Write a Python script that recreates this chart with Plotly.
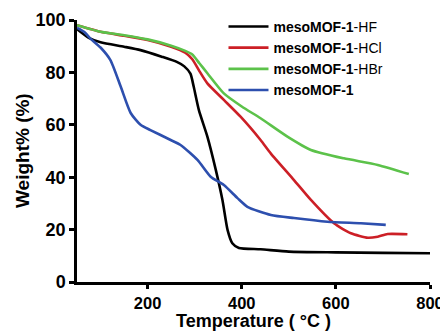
import plotly.graph_objects as go

# Temperature (°C) and weight (%)
t_hf = [50, 75, 100, 150, 185, 230, 262, 278, 291, 298, 309, 327, 345, 359, 370, 380, 394, 440, 500, 600, 700, 800]
w_hf = [96.5, 93.2, 91.5, 89.8, 88.5, 86.0, 84.0, 82.3, 79.5, 74.5, 65.6, 55.5, 42.7, 31.3, 19.8, 14.8, 13.0, 12.5, 11.6, 11.3, 11.1, 11.0]

t_hcl = [50, 100, 150, 200, 250, 280, 295, 310, 327, 362, 398, 440, 462, 511, 547, 596, 632, 668, 689, 710, 752]
w_hcl = [98, 95.5, 94.0, 92.4, 89.8, 87.5, 85.0, 80.5, 75.8, 69.5, 63.0, 54.2, 49.0, 38.9, 31.3, 22.4, 18.6, 16.9, 17.3, 18.3, 18.2]

t_hbr = [50, 100, 150, 200, 250, 280, 295, 310, 327, 362, 400, 440, 497, 547, 617, 689, 755]
w_hbr = [98, 95.5, 94.2, 92.6, 90.2, 88.2, 86.8, 83.5, 79.7, 72.0, 67.0, 62.5, 55.5, 50.4, 47.2, 44.7, 41.2]

t_mof = [50, 65, 78, 100, 121, 143, 164, 185, 206, 249, 270, 306, 334, 362, 391, 412, 462, 511, 582, 653, 706]
w_mof = [97, 95.5, 93, 89.5, 84.7, 74.5, 64.5, 60.0, 58.0, 54.2, 52.3, 46.6, 40.2, 37.0, 32.0, 28.7, 25.6, 24.4, 23.0, 22.4, 21.8]

series = [
    ("<b>mesoMOF-1</b>-HF", t_hf, w_hf, "#000000"),
    ("<b>mesoMOF-1</b>-HCl", t_hcl, w_hcl, "#cc1f26"),
    ("<b>mesoMOF-1</b>-HBr", t_hbr, w_hbr, "#5cc24a"),
    ("<b>mesoMOF-1</b>", t_mof, w_mof, "#2d4fae"),
]

x_ticks = [200, 400, 600, 800]
y_ticks = [0, 20, 40, 60, 80, 100]

FONT = "Liberation Sans, Arial, sans-serif"

fig = go.Figure()
for name, t, w, c in series:
    fig.add_trace(go.Scatter(x=t, y=w, mode="lines", name=name,
                             line=dict(color=c, width=2.6, shape="spline", smoothing=0.6)))

# the page adds an 8px body margin, so the figure is 8px smaller and offsets reduced
fig.update_layout(
    width=440, height=325,
    margin=dict(l=69, r=18, t=12, b=51, autoexpand=False),
    paper_bgcolor="white", plot_bgcolor="white",
    font=dict(family=FONT, color="black"),
    showlegend=True,
    legend=dict(x=0.415, y=1.035, xanchor="left", yanchor="top",
                bgcolor="rgba(0,0,0,0)", font=dict(size=14, family=FONT, color="black"),
                itemwidth=40, tracegroupgap=0),
    annotations=[
        dict(text="<b>Weight% (%)</b>", textangle=-90, xref="paper", yref="paper",
             x=0, y=0.5, xanchor="center", yanchor="middle", xshift=-55,
             showarrow=False, font=dict(size=19, family=FONT, color="black")),
        dict(text="<b>Temperature ( °C )</b>", xref="paper", yref="paper",
             x=0.5, y=0, xanchor="center", yanchor="top", yshift=-27,
             showarrow=False, font=dict(size=18, family=FONT, color="black")),
    ],
)
fig.update_xaxes(
    range=[50, 800], tickvals=x_ticks, ticktext=[f"<b>{v}</b>" for v in x_ticks],
    showline=True, linecolor="black", linewidth=2.5, ticks="outside", ticklen=4,
    tickwidth=2.5, tickcolor="black", showgrid=False, zeroline=False,
    tickfont=dict(size=16.5, family=FONT), automargin=False,
)
fig.update_yaxes(
    range=[0, 100], tickvals=y_ticks, ticktext=[f"<b>{v}</b>" for v in y_ticks],
    showline=True, linecolor="black", linewidth=2.5, ticks="outside", ticklen=5,
    tickwidth=2.5, tickcolor="black", showgrid=False, zeroline=False,
    tickfont=dict(size=18, family=FONT), automargin=False,
)

fig.write_html("out.html")
